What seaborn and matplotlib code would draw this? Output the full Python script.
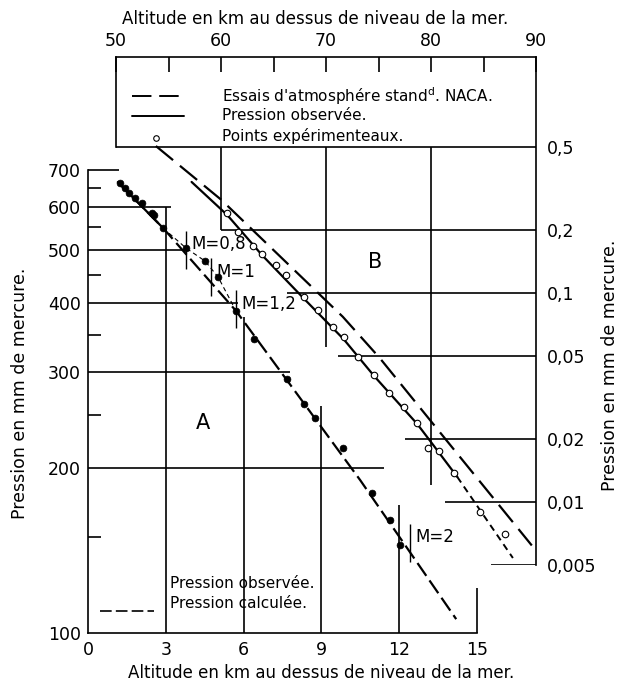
import matplotlib
matplotlib.use("Agg")
import matplotlib.pyplot as plt
import seaborn as sns
from matplotlib.ticker import FixedLocator, NullFormatter, NullLocator
from matplotlib.lines import Line2D

sns.set_style("white")
plt.rcParams['font.family'] = ['DejaVu Sans']
for key in ['text.color', 'axes.labelcolor', 'xtick.color', 'ytick.color',
            'axes.edgecolor']:
    plt.rcParams[key] = 'black'

# ---------------- Panel A (0-15 km, 100-700 mm Hg) ----------------
a_obs_alt = [1.24, 1.43, 1.58, 1.81, 2.08, 2.47, 2.55, 2.90, 3.78, 4.52, 5.02,
             5.71, 6.41, 7.68, 8.34, 8.76, 9.85, 10.96, 11.66, 12.05]
a_obs_p = [663, 649, 636, 622, 609, 584, 579, 548, 504, 477, 446,
           387, 344, 291, 262, 247, 218, 180, 161, 145]
a_obsline_alt = [1.15, 2.90]
a_obsline_p = [665, 548]
a_trans_alt = [2.90, 3.78, 4.52, 5.02, 5.71]
a_trans_p = [548, 504, 477, 446, 387]
a_calc_alt = [1.15, 2.90, 5.71, 8.34, 10.5, 14.2]
a_calc_p = [665, 548, 387, 262, 190, 106]
mach_labels = ['M=0,8', 'M=1', 'M=1,2', 'M=2']
mach_alt = [3.78, 4.75, 5.71, 12.43]
mach_p = [500, 446, 390, 146]

a_xticks = [0, 3, 6, 9, 12, 15]
a_yticks = [100, 200, 300, 400, 500, 600, 700]
a_yminor = [150, 250, 350, 450, 550, 650]
a_hgrid_p = [700, 600, 500, 400, 300, 200]
a_hgrid_xmax = [1.2, 3.2, 3.8, 5.8, 7.8, 11.4]
a_vgrid_x = [3, 6, 9, 12, 15]
a_vgrid_ptop = [600, 378, 260, 171, 121]

# ---------------- Panel B (50-90 km, 0.005-0.5 mm Hg) ----------------
b_naca_alt = [53.8, 60.0, 71.6, 75.1, 79.9, 89.6]
b_naca_p = [0.505, 0.28, 0.077, 0.049, 0.0247, 0.0062]
b_obs_alt = [57.2, 60.6, 63.9, 67.9, 71.7, 74.6, 78.7, 80.3, 82.5]
b_obs_p = [0.34, 0.236, 0.152, 0.094, 0.060, 0.040, 0.0236, 0.0185, 0.0132]
b_obsext_alt = [82.5, 87.8]
b_obsext_p = [0.0132, 0.0054]
b_pts_alt = [60.6, 61.6, 63.0, 63.9, 65.2, 66.2, 67.9, 69.2, 70.7, 71.7, 73.0,
             74.6, 76.0, 77.4, 78.7, 79.7, 80.8, 82.2, 84.7, 87.0]
b_pts_p = [0.241, 0.196, 0.168, 0.154, 0.136, 0.122, 0.0956, 0.0829, 0.0688,
           0.0616, 0.0494, 0.0405, 0.0332, 0.0285, 0.0239, 0.0181, 0.0176,
           0.0138, 0.00894, 0.00704]

b_xticks = [50, 60, 70, 80, 90]
b_xminor = [55, 65, 75, 85]
b_yticks = [0.5, 0.2, 0.1, 0.05, 0.02, 0.01, 0.005]
b_ylabels = ['0,5', '0,2', '0,1', '0,05', '0,02', '0,01', '0,005']
b_hgrid_p = [0.5, 0.2, 0.1, 0.05, 0.02, 0.01, 0.005]
b_hgrid_xmin = [50, 60, 66.3, 71.1, 77.5, 81.3, 85.7]
b_vgrid_x = [60, 70, 80]
b_vgrid_pbot = [0.2, 0.055, 0.0121]

# ---------------- figure ----------------
W, H = 623, 684
fig = plt.figure(figsize=(W / 100, H / 100), dpi=100)
fig.patch.set_facecolor('white')


def fx(px):
    return px / W


def fy(py):
    return 1 - py / H


K = 'black'
GLW = 1.2
TICKFS = 12.5

# ---- axes A ----
axA = fig.add_axes([fx(88), fy(633), fx(536) - fx(88), fy(147) - fy(633)])
axA.set_yscale('log')
axA.set_xlim(0, (536 - 88) / 25.93)
axA.set_ylim(100, 100 * 10 ** ((633 - 147) / 548))
axA.patch.set_facecolor('white')
for s in ['top', 'right']:
    axA.spines[s].set_visible(False)
axA.spines['left'].set_bounds(100, 700)
axA.spines['bottom'].set_bounds(0, 15)
for s in ['left', 'bottom']:
    axA.spines[s].set_linewidth(GLW)
    axA.spines[s].set_color(K)

axA.set_yticks(a_yticks)
axA.set_yticklabels([str(v) for v in a_yticks])
axA.yaxis.set_minor_locator(FixedLocator(a_yminor))
axA.yaxis.set_minor_formatter(NullFormatter())
axA.tick_params(axis='y', which='major', length=0, pad=5, labelsize=TICKFS,
                labelcolor=K)
axA.tick_params(axis='y', which='minor', left=True, direction='in', length=9,
                width=GLW, color=K)
axA.set_xticks(a_xticks)
axA.set_xticklabels([str(v) for v in a_xticks])
axA.xaxis.set_minor_locator(NullLocator())
axA.tick_params(axis='x', length=0, pad=6, labelsize=TICKFS, labelcolor=K)

for p, xm in zip(a_hgrid_p, a_hgrid_xmax):
    axA.hlines(p, 0, xm, color=K, lw=GLW)
for x, pt in zip(a_vgrid_x, a_vgrid_ptop):
    axA.vlines(x, 100, pt, color=K, lw=GLW)

sns.lineplot(x=a_calc_alt, y=a_calc_p, ax=axA, estimator=None, sort=False,
             color=K, lw=1.6, linestyle=(0, (7, 2.5)), legend=False)
sns.lineplot(x=a_obsline_alt, y=a_obsline_p, ax=axA, estimator=None, sort=False,
             color=K, lw=1.6, legend=False)
sns.lineplot(x=a_trans_alt, y=a_trans_p, ax=axA, estimator=None, sort=False,
             color=K, lw=0.8, linestyle=(0, (4, 3)), legend=False)
sns.scatterplot(x=a_obs_alt, y=a_obs_p, ax=axA, color=K, s=24, edgecolor=K,
                linewidth=0.5, zorder=5, legend=False)

for lab, x, p in zip(mach_labels, mach_alt, mach_p):
    axA.vlines(x, p / 10 ** 0.035, p * 10 ** 0.035, color=K, lw=1.0)
    axA.annotate(lab, (x, p), xytext=(4, 4), textcoords='offset points',
                 fontsize=12, va='center', ha='left', color=K)

axA.text(4.43, 242, 'A', fontsize=15, ha='center', va='center', color=K)

# ---- axes B ----
axB = fig.add_axes([fx(116), fy(565), fx(536) - fx(116), fy(57) - fy(565)])
axB.patch.set_alpha(0)
axB.set_yscale('log')
axB.set_xlim(50, 90)
axB.set_ylim(0.005, 0.1 * 10 ** ((293 - 57) / 209))
axB.spines['bottom'].set_visible(False)
axB.spines['left'].set_bounds(0.5, 0.1 * 10 ** ((293 - 57) / 209))
for s in ['left', 'right', 'top']:
    axB.spines[s].set_linewidth(GLW)
    axB.spines[s].set_color(K)

axB.xaxis.tick_top()
axB.set_xticks(b_xticks)
axB.set_xticklabels([str(v) for v in b_xticks])
axB.xaxis.set_minor_locator(FixedLocator(b_xminor))
axB.xaxis.set_minor_formatter(NullFormatter())
axB.tick_params(axis='x', which='both', direction='in', length=11, width=GLW,
                color=K, top=True, bottom=False, labeltop=True,
                labelbottom=False, pad=5, labelsize=TICKFS, labelcolor=K)
axB.yaxis.tick_right()
axB.set_yticks(b_yticks)
axB.set_yticklabels(b_ylabels)
axB.yaxis.set_minor_locator(NullLocator())
axB.tick_params(axis='y', length=0, pad=8, labelsize=TICKFS, left=False,
                labelleft=False, right=True, labelright=True, labelcolor=K)

for p, xm in zip(b_hgrid_p, b_hgrid_xmin):
    axB.hlines(p, xm, 90, color=K, lw=GLW)
for x, pb in zip(b_vgrid_x, b_vgrid_pbot):
    axB.vlines(x, pb, 0.5, color=K, lw=GLW)

sns.lineplot(x=b_naca_alt, y=b_naca_p, ax=axB, estimator=None, sort=False,
             color=K, lw=1.6, linestyle=(0, (10, 4)), legend=False)
sns.lineplot(x=b_obs_alt, y=b_obs_p, ax=axB, estimator=None, sort=False,
             color=K, lw=1.6, legend=False)
sns.lineplot(x=b_obsext_alt, y=b_obsext_p, ax=axB, estimator=None, sort=False,
             color=K, lw=1.4, linestyle=(0, (3.5, 2.5)), legend=False)
sns.scatterplot(x=b_pts_alt, y=b_pts_p, ax=axB, color='white', s=22,
                edgecolor=K, linewidth=0.8, zorder=5, legend=False)

axB.text(74.7, 0.141, 'B', fontsize=15, ha='center', va='center', color=K)

# ---- legend inside the top box ----
fig.add_artist(Line2D([fx(132), fx(184)], [fy(96), fy(96)], color=K, lw=1.4,
                      linestyle=(0, (10, 4))))
fig.add_artist(Line2D([fx(132), fx(184)], [fy(116), fy(116)], color=K, lw=1.4))
fig.add_artist(Line2D([fx(156)], [fy(138)], marker='o', markersize=4,
                      markerfacecolor='white', markeredgecolor=K,
                      markeredgewidth=0.8, linestyle='none'))
LFS = 11
fig.text(fx(222), fy(96), "Essais d'atmosphére stand$^{\\rm d}$. NACA.",
         fontsize=LFS, va='center', ha='left', color=K)
fig.text(fx(222), fy(116), "Pression observée.", fontsize=LFS, va='center',
         ha='left', color=K)
fig.text(fx(222), fy(136), "Points expérimenteaux.", fontsize=LFS, va='center',
         ha='left', color=K)

# ---- legend of panel A ----
fig.add_artist(Line2D([fx(100), fx(154)], [fy(611), fy(611)], color=K, lw=1.2,
                      linestyle=(0, (7, 2.5))))
fig.text(fx(170), fy(584), "Pression observée.", fontsize=LFS, va='center',
         ha='left', color=K)
fig.text(fx(170), fy(604), "Pression calculée.", fontsize=LFS, va='center',
         ha='left', color=K)

# ---- axis titles ----
fig.text(fx(315), fy(19), "Altitude en km au dessus de niveau de la mer.",
         fontsize=12, ha='center', va='center', color=K)
fig.text(fx(321), fy(673), "Altitude en km au dessus de niveau de la mer.",
         fontsize=12, ha='center', va='center', color=K)
fig.text(fx(20), fy(393), "Pression en mm de mercure.", fontsize=12.5,
         rotation=90, ha='center', va='center', color=K)
fig.text(fx(610), fy(365), "Pression en mm de mercure.", fontsize=12.5,
         rotation=90, ha='center', va='center', color=K)

fig.savefig('out.png', dpi=100, facecolor='white')
